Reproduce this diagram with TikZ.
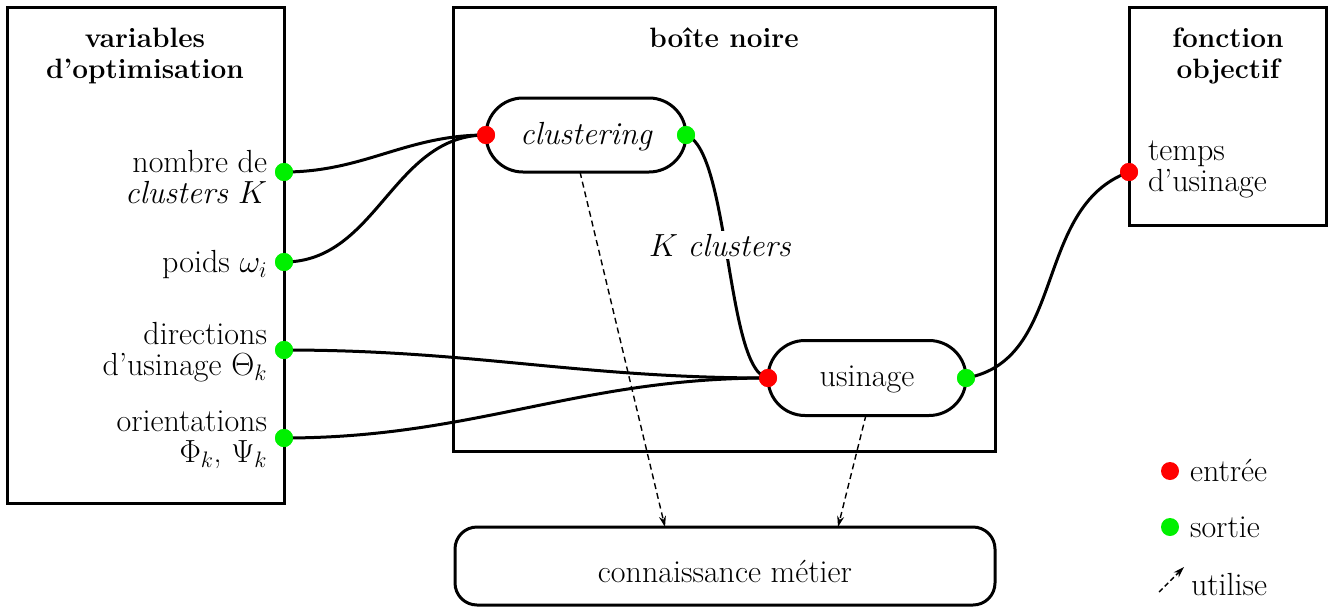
\RequirePackage{fix-cm}
\documentclass[tikz,border=0pt]{standalone}
\usetikzlibrary{arrows.meta}
\definecolor{inred}{RGB}{255,0,0}
\definecolor{outgreen}{RGB}{0,240,0}
\begin{document}
\begin{tikzpicture}[x=1pt,y=-1pt,
  every node/.style={font=\fontsize{32}{31}\selectfont, inner sep=0pt, outer sep=0pt},
  frame/.style={draw, line width=3pt},
  pill/.style={draw, line width=3pt, rounded corners=37pt},
  ttl/.style={font=\fontsize{28}{31}\selectfont\bfseries, align=center},
  lbl/.style={align=right, anchor=east},
  indot/.style={circle, fill=inred, minimum size=18pt},
  outdot/.style={circle, fill=outgreen, minimum size=18pt},
  wire/.style={line width=3pt},
  uses/.style={line width=1.4pt, dash pattern=on 6pt off 4pt, -{Stealth[length=11pt,width=7pt]}}
]
\useasboundingbox (0,0) rectangle (1335,608);

% frames
\node[frame, minimum width=277, minimum height=496, anchor=north west] (vars) at (7,7) {};
\node[frame, minimum width=542, minimum height=444, anchor=north west] (bb) at (453,7) {};
\node[frame, minimum width=197, minimum height=218, anchor=north west] (obj) at (1129,7) {};
\node[draw, line width=3pt, rounded corners=22pt, minimum width=540, minimum height=78, anchor=north west] (km) at (455,527) {};
\node[anchor=base] (kmt) at (725,582) {connaissance métier};

% titles
\node[ttl] (t1) at (145,56) {variables\\d’optimisation};
\node[ttl, anchor=base] (t2) at (724,47) {boîte noire};
\node[ttl] (t3) at (1228,56) {fonction\\objectif};

% pills
\node[pill, minimum width=200, minimum height=74] (cl) at (586,135) {};
\node[anchor=base] (clt) at (586,144) {\itshape clustering};
\node[pill, minimum width=198, minimum height=75] (us) at (867,378) {};
\node[anchor=base] (ust) at (867,386) {usinage};

% labels
\node[lbl] (l1) at (267,177) {nombre de\\\textit{clusters} $K$};
\node[lbl] (l2) at (267,265) {poids $\omega_i$};
\node[lbl] (l3) at (267,352) {directions\\d’usinage $\Theta_k$};
\node[lbl] (l4) at (267,440) {orientations\\$\Phi_k$, $\Psi_k$};
\node[align=left, anchor=west] (l5) at (1148,169) {temps\\d’usinage};

% dots
\node[outdot] (o1) at (284,172) {};
\node[outdot] (o2) at (284,262) {};
\node[outdot] (o3) at (284,350) {};
\node[outdot] (o4) at (284,438) {};
\node[indot] (cin) at (486,135) {};
\node[outdot] (cout) at (686,135) {};
\node[indot] (uin) at (768,378) {};
\node[outdot] (uout) at (966,378) {};
\node[indot] (oin) at (1129,172) {};

% wires
\draw[wire] (o1.center) to[out=0,in=180] (cin.center);
\draw[wire] (o2.center) to[out=0,in=180] (cin.center);
\draw[wire] (o3.center) to[out=0,in=180] (uin.center);
\draw[wire] (o4.center) to[out=0,in=180] (uin.center);
\draw[wire] (cout.center) .. controls (730,150) and (726,372) .. (uin.center);
\draw[wire] (uout.center) to[out=10,in=200] (oin.center);
\node[fill=white, inner sep=3pt, anchor=base] (kc) at (720,256) {$K$ \textit{clusters}};

% redraw dots on top
\foreach \d in {o1,o2,o3,o4,cout,uout} \fill[outgreen] (\d) circle (9);
\foreach \d in {cin,uin,oin} \fill[inred] (\d) circle (9);

% uses arrows
\coordinate (a1) at (580,172);
\coordinate (a2) at (665,527);
\coordinate (b1) at (866,415);
\coordinate (b2) at (838,527);
\draw[uses] (a1) -- (a2);
\draw[uses] (b1) -- (b2);

% legend
\node[indot] (lr) at (1170,471) {};
\node[anchor=base west] (lrt) at (1190,481) {entrée};
\node[outdot] (lg) at (1170,527) {};
\node[anchor=base west] (lgt) at (1190,537) {sortie};
\coordinate (la) at (1159,592);
\coordinate (lb) at (1184,567);
\draw[uses, dash pattern=on 5pt off 3pt] (la) -- (lb);
\node[anchor=base west] (lat) at (1191,595) {utilise};
\end{tikzpicture}
\end{document}
